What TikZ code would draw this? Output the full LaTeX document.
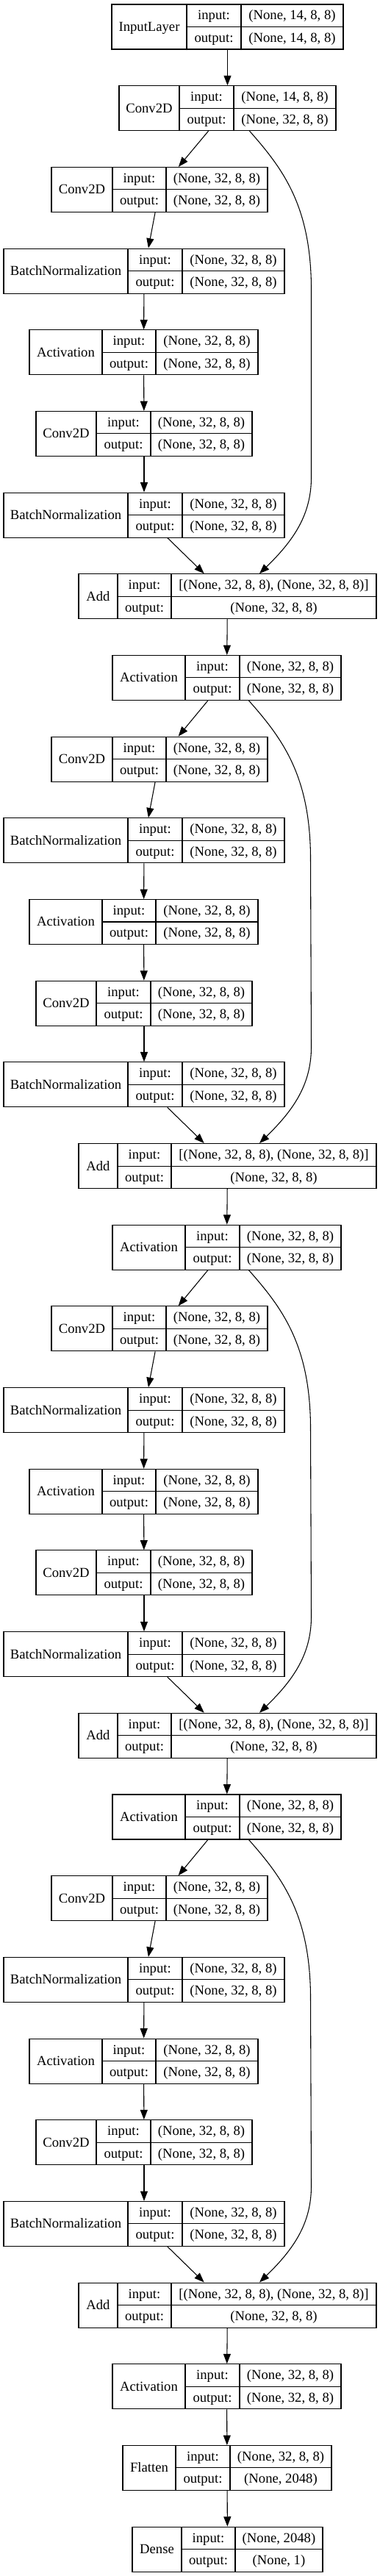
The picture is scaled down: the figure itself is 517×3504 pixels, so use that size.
\documentclass[tikz,border=0pt]{standalone}
\usepackage{fontspec}
\setmainfont{Liberation Serif}
\usetikzlibrary{fit,calc,arrows.meta}
\tikzset{
  box/.style={draw=black, line width=0.8pt, inner sep=0pt},
  cell/.style={draw=black, line width=0.8pt},
  lbl/.style={inner sep=0pt, anchor=base, font=\fontsize{14}{16}\selectfont},
  edge/.style={draw=black, line width=0.8pt, -{Triangle[length=10pt,width=7.5pt]}},
}
\newcommand\klayer[9]{%
  \pgfmathsetmacro\yt{6+(#2-1)*110.68}%
  \pgfmathsetmacro\yb{\yt+61}%
  \pgfmathsetmacro\ym{\yt+30.5}%
  \node[box, fit={(#3,\yt) (#6,\yb)}] (#1) {};
  \draw[cell] (#4,\yt) -- (#4,\yb) (#5,\yt) -- (#5,\yb) (#4,\ym) -- (#6,\ym);
  \node[lbl] (#1-name) at ({(#3+#4)/2},\yt+36.5) {#7};
  \node[lbl] (#1-inl) at ({(#4+#5)/2},\yt+21) {input:};
  \node[lbl] (#1-inv) at ({(#5+#6)/2},\yt+21) {#8};
  \node[lbl] (#1-outl) at ({(#4+#5)/2},\yt+51.5) {output:};
  \node[lbl] (#1-outv) at ({(#5+#6)/2},\yt+51.5) {#9};
}
\newcommand\skipedge[2]{%
  \draw[edge] ($(#1.south)+(30,0)$)
    .. controls ($(#1.south)+(76,52)$) and ($(#1.south)+(113,102)$) .. ($(#1.south)+(114,212)$)
    -- ($(#2.north)+(114,-131)$)
    .. controls ($(#2.north)+(114,-81)$) and ($(#2.north)+(91,-46)$) .. ($(#2.north)+(43.5,0)$);
}
\begin{document}
\begin{tikzpicture}[x=0.75pt,y=-0.75pt]
\fill[white] (0,0) rectangle (517,3504);
\useasboundingbox (0,0) rectangle (517,3504);
\klayer{r1}{1}{152}{254}{328}{467}{InputLayer}{(None, 14, 8, 8)}{(None, 14, 8, 8)}
\klayer{r2}{2}{162}{244}{318}{457}{Conv2D}{(None, 14, 8, 8)}{(None, 32, 8, 8)}
\foreach \k in {0,1,2,3}{
  \pgfmathtruncatemacro\rowa{3+7*\k}
  \pgfmathtruncatemacro\rowb{4+7*\k}
  \pgfmathtruncatemacro\rowc{5+7*\k}
  \pgfmathtruncatemacro\rowd{6+7*\k}
  \pgfmathtruncatemacro\rowe{7+7*\k}
  \pgfmathtruncatemacro\rowf{8+7*\k}
  \pgfmathtruncatemacro\rowg{9+7*\k}
  \klayer{r\rowa}{\rowa}{70}{153}{226}{364}{Conv2D}{(None, 32, 8, 8)}{(None, 32, 8, 8)}
  \klayer{r\rowb}{\rowb}{5}{174}{248}{387}{BatchNormalization}{(None, 32, 8, 8)}{(None, 32, 8, 8)}
  \klayer{r\rowc}{\rowc}{40}{139}{212}{351}{Activation}{(None, 32, 8, 8)}{(None, 32, 8, 8)}
  \klayer{r\rowd}{\rowd}{49}{131}{205}{343}{Conv2D}{(None, 32, 8, 8)}{(None, 32, 8, 8)}
  \klayer{r\rowe}{\rowe}{5}{174}{248}{387}{BatchNormalization}{(None, 32, 8, 8)}{(None, 32, 8, 8)}
  \klayer{r\rowf}{\rowf}{107}{160}{233}{512}{Add}{[(None, 32, 8, 8), (None, 32, 8, 8)]}{(None, 32, 8, 8)}
  \klayer{r\rowg}{\rowg}{153}{252}{326}{464}{Activation}{(None, 32, 8, 8)}{(None, 32, 8, 8)}
}
\klayer{r31}{31}{167}{239}{313}{451}{Flatten}{(None, 32, 8, 8)}{(None, 2048)}
\klayer{r32}{32}{180}{247}{320}{439}{Dense}{(None, 2048)}{(None, 1)}
\foreach \i [evaluate=\i as \j using {int(\i+1)}] in {1,...,31}{
  \draw[edge] (r\i) -- (r\j);
}
\skipedge{r2}{r8}
\skipedge{r9}{r15}
\skipedge{r16}{r22}
\skipedge{r23}{r29}
\end{tikzpicture}
\end{document}
